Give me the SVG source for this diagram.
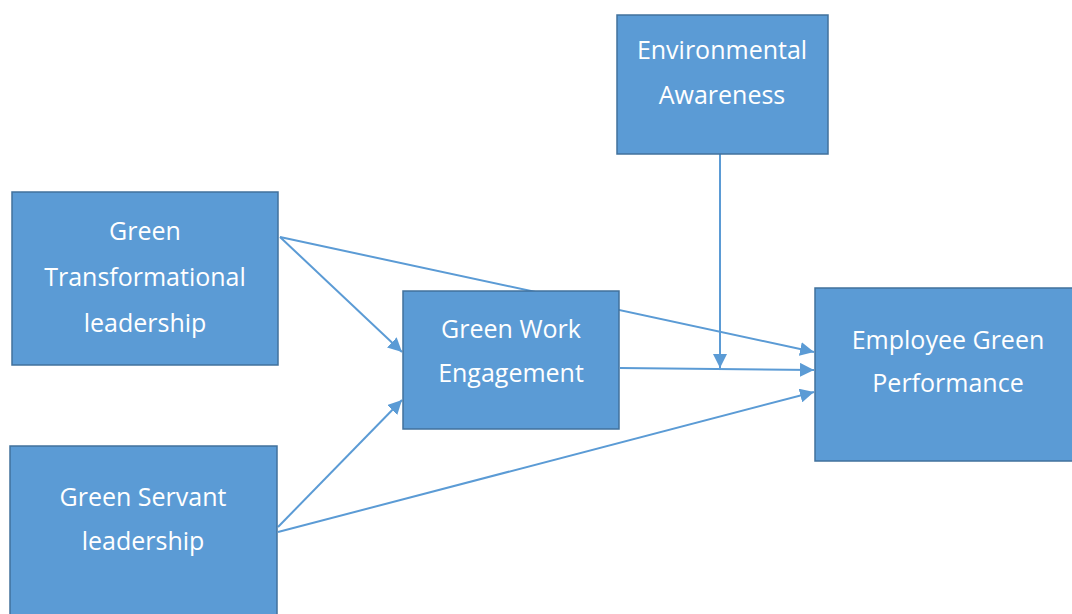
<svg xmlns="http://www.w3.org/2000/svg" width="1072" height="614" viewBox="0 0 1072 614">
  <style>
    .box { fill: #5B9BD5; stroke: #41719C; stroke-width: 1.5; }
    .lbl { fill: #FFFFFF; font-family: "Open Sans", "Liberation Sans", sans-serif; font-size: 25px; text-anchor: middle; dominant-baseline: central; }
    .edge { fill: none; stroke: #5B9BD5; stroke-width: 2; marker-end: url(#arrow); }
  </style>
  <defs>
    <marker id="arrow" viewBox="0 0 10 10" refX="10" refY="5" markerWidth="7" markerHeight="7" markerUnits="strokeWidth" orient="auto">
      <path d="M0,0 L10,5 L0,10 Z" fill="#5B9BD5"/>
    </marker>
  </defs>
  <rect width="1072" height="614" fill="#FFFFFF"/>

  <!-- connectors -->
  <g id="connectors">
    <line class="edge" x1="280" y1="237" x2="814" y2="352"/>
    <line class="edge" x1="280" y1="237" x2="402" y2="352"/>
    <line class="edge" x1="278" y1="527" x2="402" y2="400"/>
    <line class="edge" x1="278" y1="532" x2="814" y2="392"/>
    <line class="edge" x1="620" y1="368" x2="814" y2="370"/>
    <line class="edge" x1="720" y1="154" x2="720" y2="368"/>
  </g>

  <g id="environmental-awareness">
    <rect class="box" x="617" y="15" width="211" height="139"/>
    <text class="lbl" x="722" y="49">Environmental</text>
    <text class="lbl" x="722" y="94">Awareness</text>
  </g>

  <g id="green-transformational-leadership">
    <rect class="box" x="12" y="192" width="266" height="173"/>
    <text class="lbl" x="145" y="230">Green</text>
    <text class="lbl" x="145" y="276">Transformational</text>
    <text class="lbl" x="145" y="322">leadership</text>
  </g>

  <g id="green-servant-leadership">
    <rect class="box" x="10" y="446" width="267" height="180"/>
    <text class="lbl" x="143" y="496">Green Servant</text>
    <text class="lbl" x="143" y="540">leadership</text>
  </g>

  <g id="green-work-engagement">
    <rect class="box" x="403" y="291" width="216" height="138"/>
    <text class="lbl" x="511" y="328">Green Work</text>
    <text class="lbl" x="511" y="372">Engagement</text>
  </g>

  <g id="employee-green-performance">
    <rect class="box" x="815" y="288" width="270" height="173"/>
    <text class="lbl" x="948" y="339">Employee Green</text>
    <text class="lbl" x="948" y="382">Performance</text>
  </g>
</svg>
